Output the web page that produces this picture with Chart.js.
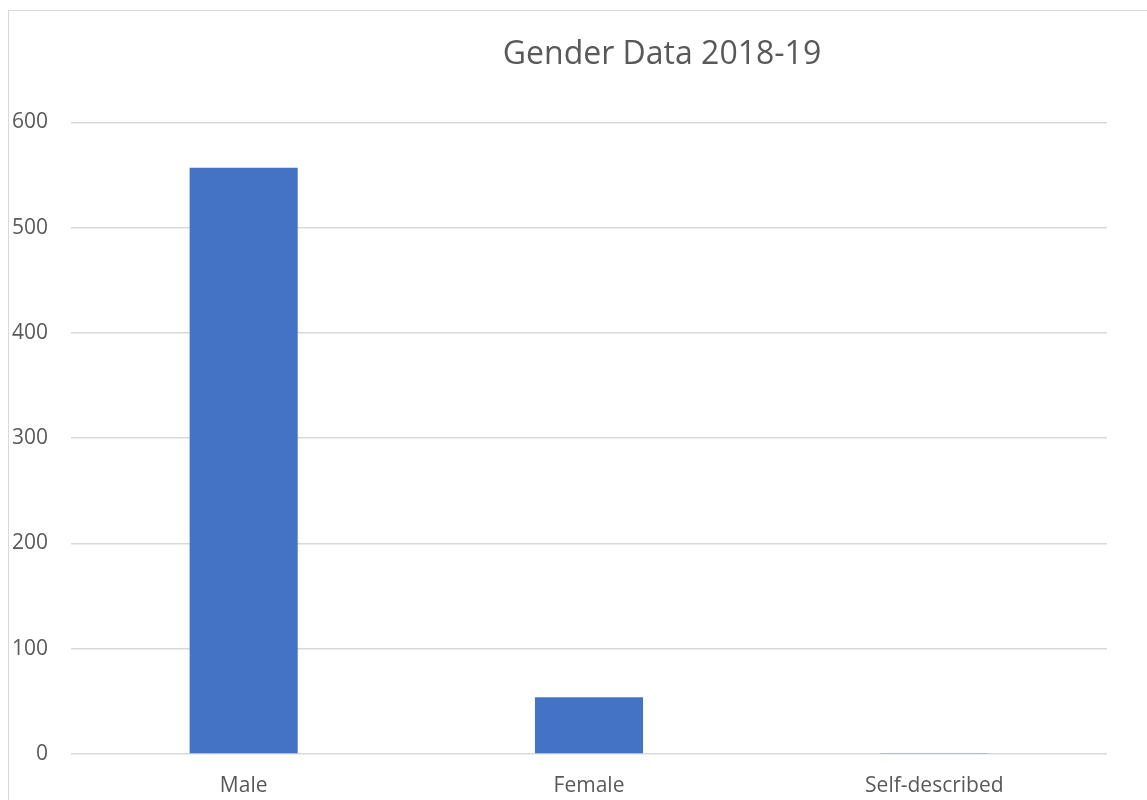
<!DOCTYPE html>
<html>
<head>
<meta charset="utf-8">
<script src="https://cdn.jsdelivr.net/npm/chart.js@4.4.1/dist/chart.umd.min.js"></script>
<style>
  html, body { margin: 0; padding: 0; background: #fff; overflow: hidden; width: 1147px; height: 800px; }
  #frame { position: absolute; left: 8px; top: 10px; width: 1300px; height: 900px; border: 1px solid #d9d9d9; background: #fff; }
  #chart { position: absolute; left: 0; top: 0; }
</style>
</head>
<body>
<div id="frame"></div>
<canvas id="chart" width="1324" height="800"></canvas>
<script>
const categories = ['Male', 'Female', 'Self-described'];
const counts = [557, 54, 1];
const chartTitle = 'Gender Data 2018-19';

const textColor = '#595959';
const gridColor = '#d9d9d9';

const ctx = document.getElementById('chart');
const chart = new Chart(ctx, {
  type: 'bar',
  data: {
    labels: categories,
    datasets: [{
      label: 'Count',
      data: counts,
      backgroundColor: '#4472C4',
      borderWidth: 0,
      barPercentage: 0.313,
      categoryPercentage: 1
    }]
  },
  options: {
    responsive: false,
    animation: false,
    layout: { padding: { left: 0, right: 0, top: 0, bottom: 4 } },
    plugins: {
      legend: { display: false },
      tooltip: { enabled: false },
      title: {
        display: true,
        text: chartTitle,
        color: textColor,
        font: { family: 'Open Sans', size: 32, weight: 'normal' },
        padding: { top: 36, bottom: 48 }
      }
    },
    scales: {
      x: {
        afterFit: function (scale) { scale.height = 42; },
        grid: { display: false, drawTicks: false },
        border: { display: false },
        ticks: {
          color: textColor,
          padding: 19,
          font: { family: 'Open Sans', size: 21 }
        }
      },
      y: {
        min: 0,
        max: 600,
        afterFit: function (scale) { scale.width = 71; },
        grid: { color: gridColor, lineWidth: 1.5, drawTicks: false },
        border: { display: false },
        ticks: {
          stepSize: 100,
          color: textColor,
          padding: 23,
          font: { family: 'Open Sans', size: 21 }
        }
      },
      // empty right-hand space so the title sits where the reference has it
      spacer: {
        type: 'linear',
        position: 'right',
        afterFit: function (scale) { scale.width = 217; },
        grid: { display: false, drawTicks: false },
        border: { display: false },
        ticks: { display: false }
      }
    }
  }
});
</script>
</body>
</html>
